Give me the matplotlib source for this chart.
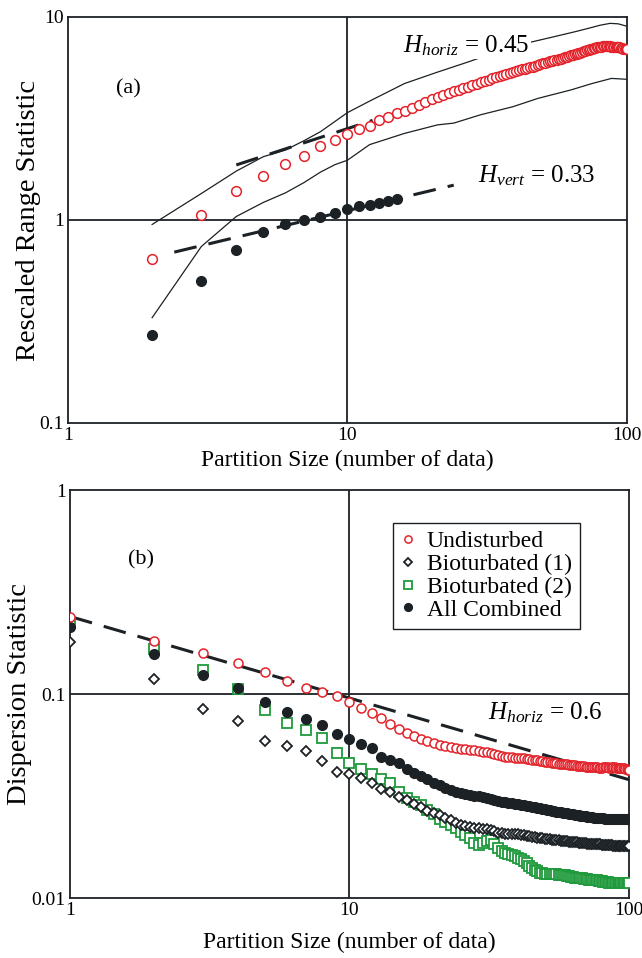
import numpy as np
import matplotlib
matplotlib.use("Agg")
import matplotlib.pyplot as plt

plt.rcParams['font.family'] = ['Liberation Serif', 'DejaVu Serif']
plt.rcParams['mathtext.fontset'] = 'custom'
plt.rcParams['mathtext.rm'] = 'Liberation Serif'
plt.rcParams['mathtext.it'] = 'Liberation Serif:italic'

RED = '#e3232b'
GREEN = '#1f9a3c'
DARK = '#1c2125'

# ---- (a) rescaled range statistic ----
n_a = np.arange(2, 101)
rs_horiz = [0.64, 1.06, 1.39, 1.65, 1.89, 2.07, 2.31, 2.48, 2.65,
            2.80, 2.90, 3.10, 3.22, 3.35, 3.46, 3.58, 3.68, 3.82, 3.93,
            4.03, 4.12, 4.20, 4.30, 4.38, 4.46, 4.53, 4.61, 4.70, 4.77,
            4.84, 4.91, 4.98, 5.05, 5.12, 5.19, 5.25, 5.31, 5.37, 5.43,
            5.48, 5.53, 5.57, 5.61, 5.66, 5.70, 5.75, 5.80, 5.86, 5.92,
            5.96, 6.00, 6.04, 6.08, 6.12, 6.16, 6.19, 6.23, 6.28, 6.33,
            6.38, 6.42, 6.46, 6.50, 6.54, 6.59, 6.63, 6.68, 6.72, 6.77,
            6.82, 6.86, 6.90, 6.94, 6.98, 7.02, 7.05, 7.09, 7.12, 7.14,
            7.15, 7.16, 7.17, 7.17, 7.18, 7.17, 7.16, 7.15, 7.14, 7.14,
            7.13, 7.12, 7.10, 7.08, 7.05, 7.02, 6.99, 6.97, 6.95, 6.93]

n_vert = np.arange(2, 16)
rs_vert = [0.27, 0.50, 0.71, 0.87, 0.96, 1.00, 1.03, 1.08, 1.13,
           1.17, 1.19, 1.21, 1.24, 1.27]

# envelope curves around the horizontal R/S values
n_upper = [2, 3, 4, 5, 6, 7, 8, 9, 10, 12, 16, 21, 27, 35, 45, 55, 65, 73, 80, 87, 93, 100]
rs_upper = [0.95, 1.35, 1.74, 2.05, 2.21, 2.46, 2.72, 3.05, 3.38, 3.85, 4.70, 5.35,
            6.00, 6.80, 7.50, 8.00, 8.45, 8.80, 9.10, 9.30, 9.25, 9.00]
n_lower = [2, 3, 4, 5, 6, 7, 8, 9, 10, 12, 16, 21, 24, 30, 39, 48, 63, 75, 88, 100]
rs_lower = [0.33, 0.74, 1.04, 1.22, 1.36, 1.53, 1.72, 1.87, 1.97, 2.35, 2.67, 2.94,
            3.00, 3.30, 3.61, 3.97, 4.37, 4.70, 4.98, 4.93]

H_horiz_a, C_horiz_a, span_horiz_a = 0.45, 1.0, (4.0, 12.3)
H_vert_a, C_vert_a, span_vert_a = 0.33, 0.52, (2.4, 24.0)

# ---- (b) dispersion statistic ----
n_b = np.arange(1, 101)
disp_undisturbed = [
    0.238, 0.182, 0.159, 0.142, 0.128, 0.116, 0.107, 0.1026, 0.0978, 0.0917,
    0.0850, 0.0810, 0.0760, 0.0715, 0.0671, 0.0645, 0.0625, 0.0602, 0.0588, 0.0574,
    0.0562, 0.0556, 0.0550, 0.0545, 0.0540, 0.0537, 0.0534, 0.0531, 0.0527, 0.0522,
    0.0518, 0.0513, 0.0508, 0.0502, 0.0498, 0.0494, 0.0491, 0.0489, 0.0487, 0.0485,
    0.0484, 0.0483, 0.0481, 0.0479, 0.0477, 0.0475, 0.0473, 0.0471, 0.0468, 0.0466,
    0.0464, 0.0462, 0.0460, 0.0458, 0.0457, 0.0456, 0.0455, 0.0454, 0.0453, 0.0452,
    0.0450, 0.0449, 0.0448, 0.0447, 0.0446, 0.0445, 0.0444, 0.0443, 0.0442, 0.0441,
    0.0440, 0.0440, 0.0439, 0.0438, 0.0438, 0.0437, 0.0437, 0.0436, 0.0436, 0.0436,
    0.0437, 0.0438, 0.0438, 0.0437, 0.0436, 0.0436, 0.0437, 0.0438, 0.0437, 0.0435,
    0.0434, 0.0434, 0.0435, 0.0436, 0.0434, 0.0432, 0.0430, 0.0428, 0.0426, 0.0424]
disp_bio1 = [
    0.179, 0.118, 0.0841, 0.0740, 0.0589, 0.0558, 0.0527, 0.0471, 0.0416, 0.0405,
    0.0386, 0.0367, 0.0341, 0.0330, 0.0314, 0.0303, 0.0290, 0.0278, 0.0268, 0.0260,
    0.0254, 0.0247, 0.0240, 0.0234, 0.0229, 0.0226, 0.0223, 0.0221, 0.0220, 0.0218,
    0.0217, 0.0215, 0.0212, 0.0209, 0.0208, 0.0207, 0.0207, 0.0206, 0.0205, 0.0205,
    0.0204, 0.0203, 0.0202, 0.0201, 0.0200, 0.0199, 0.0198, 0.0197, 0.0196, 0.0195,
    0.0194, 0.0194, 0.0193, 0.0193, 0.0192, 0.0192, 0.0191, 0.0191, 0.0190, 0.0190,
    0.0189, 0.0189, 0.0188, 0.0188, 0.0188, 0.0187, 0.0187, 0.0186, 0.0186, 0.0186,
    0.0185, 0.0185, 0.0185, 0.0184, 0.0184, 0.0184, 0.0183, 0.0183, 0.0183, 0.0182,
    0.0182, 0.0182, 0.0182, 0.0181, 0.0181, 0.0181, 0.0181, 0.0180, 0.0180, 0.0180,
    0.0180, 0.0180, 0.0180, 0.0180, 0.0180, 0.0180, 0.0180, 0.0180, 0.0180, 0.0180]
disp_bio2 = [
    0.222, 0.166, 0.131, 0.106, 0.0835, 0.0718, 0.0667, 0.0607, 0.0512, 0.0461,
    0.0428, 0.0405, 0.0383, 0.0365, 0.0332, 0.0308, 0.0296, 0.0286, 0.0270, 0.0258,
    0.0245, 0.0236, 0.0228, 0.0220, 0.0211, 0.0203, 0.0196, 0.0186, 0.0182, 0.0186,
    0.0190, 0.0193, 0.0184, 0.0176, 0.0170, 0.0167, 0.0164, 0.0162, 0.0160, 0.0157,
    0.0155, 0.0152, 0.0148, 0.0144, 0.0140, 0.0137, 0.0135, 0.0133, 0.0132, 0.0131,
    0.0131, 0.0131, 0.0131, 0.0131, 0.0131, 0.0130, 0.0130, 0.0129, 0.0129, 0.0128,
    0.0128, 0.0127, 0.0127, 0.0126, 0.0126, 0.0126, 0.0125, 0.0125, 0.0124, 0.0124,
    0.0124, 0.0123, 0.0123, 0.0123, 0.0122, 0.0122, 0.0122, 0.0121, 0.0121, 0.0121,
    0.0120, 0.0120, 0.0120, 0.0120, 0.0119, 0.0119, 0.0119, 0.0119, 0.0119, 0.0118,
    0.0118, 0.0118, 0.0118, 0.0118, 0.0118, 0.0118, 0.0118, 0.0118, 0.0118, 0.0118]
disp_all = [
    0.214, 0.157, 0.124, 0.107, 0.091, 0.0819, 0.0751, 0.0705, 0.0634, 0.0600,
    0.0566, 0.0542, 0.0493, 0.0475, 0.0457, 0.0428, 0.0412, 0.0398, 0.0383, 0.0368,
    0.0358, 0.0347, 0.0338, 0.0331, 0.0326, 0.0322, 0.0319, 0.0317, 0.0315, 0.0313,
    0.0310, 0.0307, 0.0302, 0.0298, 0.0296, 0.0294, 0.0292, 0.0291, 0.0289, 0.0288,
    0.0286, 0.0285, 0.0283, 0.0282, 0.0280, 0.0279, 0.0277, 0.0276, 0.0274, 0.0272,
    0.0271, 0.0269, 0.0268, 0.0266, 0.0265, 0.0264, 0.0263, 0.0262, 0.0261, 0.0260,
    0.0259, 0.0258, 0.0257, 0.0256, 0.0255, 0.0254, 0.0253, 0.0252, 0.0251, 0.0251,
    0.0250, 0.0250, 0.0249, 0.0249, 0.0248, 0.0248, 0.0247, 0.0247, 0.0246, 0.0246,
    0.0246, 0.0245, 0.0245, 0.0245, 0.0244, 0.0244, 0.0244, 0.0244, 0.0243, 0.0243,
    0.0243, 0.0243, 0.0243, 0.0243, 0.0243, 0.0243, 0.0243, 0.0243, 0.0243, 0.0243]

H_horiz_b, C_horiz_b = 0.6, 0.24

fig = plt.figure(figsize=(6.42, 9.58), dpi=100)
ax1 = fig.add_axes([0.1059, 0.5585, 0.8707, 0.4238])
ax2 = fig.add_axes([0.1090, 0.0626, 0.8707, 0.4259])

DASH = (7.5, 4.0)


def style_axes(ax, ylim, ylabel, xpad, ypad):
    ax.set_xscale('log')
    ax.set_yscale('log')
    ax.set_xlim(1, 100)
    ax.set_ylim(*ylim)
    ax.set_xticks([1, 10, 100])
    ax.set_xticklabels(['1', '10', '100'])
    ax.minorticks_off()
    ax.tick_params(length=0, labelsize=14, pad=3)
    for sp in ax.spines.values():
        sp.set_linewidth(1.3)
        sp.set_color(DARK)
    ax.set_xlabel('Partition Size (number of data)', fontsize=17, labelpad=xpad)
    ax.set_ylabel(ylabel, fontsize=20.5, labelpad=ypad)


# (a)
style_axes(ax1, (0.1, 10), 'Rescaled Range Statistic', 4, -1)
ax1.set_yticks([0.1, 1, 10])
ax1.set_yticklabels(['0.1', '1', '10'])
ax1.axvline(10, color=DARK, lw=1.3, zorder=1)
ax1.axhline(1, color=DARK, lw=1.3, zorder=1)
ax1.plot(n_upper, rs_upper, color=DARK, lw=0.9, zorder=2)
ax1.plot(n_lower, rs_lower, color=DARK, lw=0.9, zorder=2)
xh = np.array(span_horiz_a)
ax1.plot(xh, C_horiz_a * xh ** H_horiz_a, color=DARK, lw=2.2, dashes=DASH, zorder=3)
xv = np.array(span_vert_a)
ax1.plot(xv, C_vert_a * xv ** H_vert_a, color=DARK, lw=2.2, dashes=DASH, zorder=3)
ax1.plot(n_a, rs_horiz, 'o', ms=7, mfc='white', mec=RED, mew=1.1, zorder=4)
ax1.plot(n_vert, rs_vert, 'o', ms=7, color=DARK, zorder=4)
ax1.text(1.49, 4.2, '(a)', fontsize=16, va='baseline')
ax1.text(15.8, 6.7, r'$H_{horiz}$ = 0.45', fontsize=18, va='baseline', zorder=5,
         bbox=dict(facecolor='white', edgecolor='none', pad=1))
ax1.text(29.2, 1.53, r'$H_{vert}$ = 0.33', fontsize=18, va='baseline', zorder=5)

# (b)
style_axes(ax2, (0.01, 1), 'Dispersion Statistic', 9, 0)
ax2.set_yticks([0.01, 0.1, 1])
ax2.set_yticklabels(['0.01', '0.1', '1'])
ax2.axvline(10, color=DARK, lw=1.3, zorder=1)
ax2.axhline(0.1, color=DARK, lw=1.3, zorder=1)
xb = np.array([1.0, 100.0])
ax2.plot(xb, C_horiz_b * xb ** (H_horiz_b - 1), color=DARK, lw=2.2, dashes=DASH, zorder=2)
ax2.plot(n_b, disp_bio2, 's', ms=6.5, mfc='white', mec=GREEN, mew=1.3, zorder=3,
         label='Bioturbated (2)')
ax2.plot(n_b, disp_bio1, 'D', ms=5, mfc='white', mec=DARK, mew=1.3, zorder=4,
         label='Bioturbated (1)')
ax2.plot(n_b, disp_all, 'o', ms=7, color=DARK, zorder=5, label='All Combined')
ax2.plot(n_b, disp_undisturbed, 'o', ms=6.5, mfc='white', mec=RED, mew=1.1, zorder=6,
         label='Undisturbed')
ax2.text(1.61, 0.432, '(b)', fontsize=16, va='baseline')
ax2.text(31.3, 0.0751, r'$H_{horiz}$ = 0.6', fontsize=18, va='baseline')

handles, labels = ax2.get_legend_handles_labels()
order = [3, 1, 0, 2]
leg = ax2.legend([handles[i] for i in order], [labels[i] for i in order],
                 loc='upper left', bbox_to_anchor=(0.577, 0.92), borderaxespad=0,
                 fontsize=17, fancybox=False, framealpha=1, edgecolor=DARK,
                 handlelength=0.6, handletextpad=0.5, labelspacing=0.05,
                 borderpad=0.35, markerscale=0.8)
leg.get_frame().set_linewidth(1.0)

fig.savefig('out.png', dpi=100)
